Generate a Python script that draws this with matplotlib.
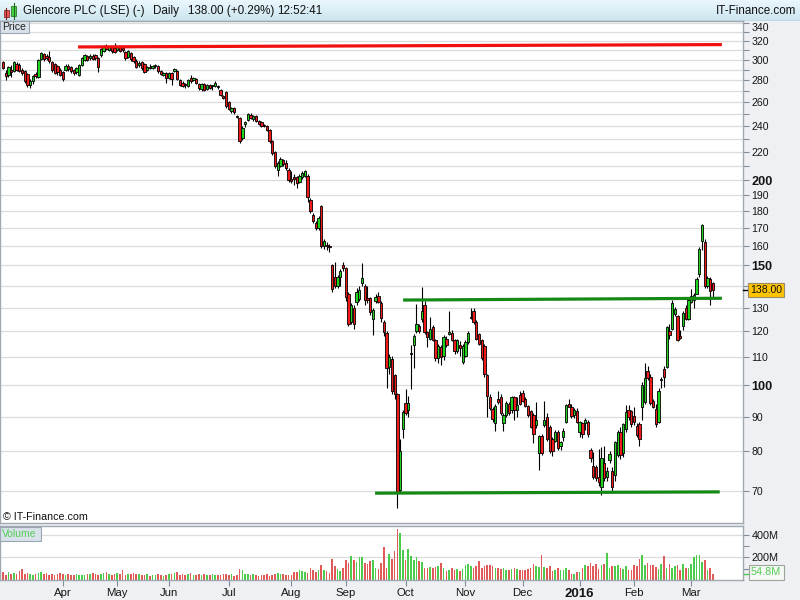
import numpy as np
import pandas as pd
import matplotlib
matplotlib.use("Agg")
import matplotlib.pyplot as plt
import matplotlib.colors as mcolors
from matplotlib.patches import Rectangle
from matplotlib.collections import PatchCollection
from matplotlib.ticker import FixedLocator, NullFormatter
from matplotlib.transforms import blended_transform_factory

plt.rcParams['font.family'] = ['Liberation Sans', 'DejaVu Sans']

# ---------------- data ----------------
title_name = "Glencore PLC (LSE) (-)"
title_period = "Daily"
title_quote = "138.00 (+0.29%)"
title_time = "12:52:41"
brand = "IT-Finance.com"

start_date = "2015-03-02"
end_date = "2016-03-11"
uk_holidays = ["2015-04-03", "2015-04-06", "2015-05-04", "2015-05-25",
               "2015-08-31", "2015-12-25", "2015-12-28", "2016-01-01"]

opens = [298,287,285,290,289,296,295,290,289,286,
         276,279,286,283,301,306,304,303,298,296,
         294,290,288,290,294,293,290,288,285,295,
         300,304,302,304,305,302,305,309,314,310,
         313,312,310,313,312,308,303,307,303,299,
         295,298,296,290,293,292,294,294,289,285,
         287,282,287,289,289,280,278,276,275,282,
         280,281,277,272,277,272,276,275,275,275,
         271.5,266,269,260,252.4,254.8,248,246.8,230.5,242,
         245,249,246,248,244,243,240.5,240,237,228.5,
         220,207,210,214,212,207,201,202,202,199,
         202,203,203,187,178,173,170,183,160,160.5,
         160,150,144,140,144,150,148.6,136,124,130,
         132.5,134,141.5,140,134.5,134.5,125,133,135.2,132.2,
         123.8,119.4,106.4,109.4,103.4,97,70.3,86.2,94.3,91.9,
         111,114.8,120.3,122.4,125.1,131,119.6,117,121.7,116.4,
         109.8,113.8,110.5,117.1,119,119.4,116.4,112.2,114.7,108.2,
         110.6,115.8,125.5,128.6,123.8,118.9,116.4,114.4,103.4,96.3,
         92.2,88.1,95.5,96,88,90.5,94,91.9,96,92,
         96.8,97.6,95.4,93.2,91.6,90.5,87.6,79.6,84.3,87.6,
         89.8,87,83.5,82.8,85.5,81.5,83.9,88.5,93.8,93.1,
         90.4,91.8,85.3,88,88,88.5,80.3,76.3,76,73.3,
         71,77,73.4,77.7,75,73.8,79,85.3,79.5,86.4,
         92,91.7,90.2,87.2,87.7,93.1,94.5,105,102.9,95,
         92.2,88.5,101.8,105.7,106.5,120,121,127.3,126.3,118,
         122,130,125,132.4,133.3,136.2,145.9,162.8,162.2,139.7,
         143.3,141.4]

highs = [299,290,294,295,299,298,297,292,290,287,
         281,285,288,301,308,307,306,309,299,297,
         295,292,289,296,296,294,291,293,296,303,
         306,305,306,306,306,303,312,316,317,315,
         315,318,314,315,313,309,310,308,304,301,
         299,299,297,294,296,295,296,295,290,288,
         288,288,288,292,290,281,279,278,281,285,
         283,282,278,278,278,277,277,276,279,276,
         272,267,270,261,256,256,249.5,247.5,240,244,
         251,251,249,249,245,244,242,241,238,229,
         221,213,216,215,214,208,206,204,203,204,
         206,207,204,188,179,174,177,184,164,162,
         161,150.5,151.5,145,148,151.5,149,137,132,131,
         139,140,151,141,140,135,130,136,137,133,
         124.5,120,111,110.5,104,97.5,83.5,92,98.9,96.5,
         114.8,119,131.5,123,139.4,133,120,126,122.5,117,
         115,114.5,118.5,118,128.6,120.5,117,117,116,115,
         116.5,120,130,130,124.5,119.5,117,115,104,97,
         93,94,98,97,91,95,94.5,96.5,96.5,96,
         98,98.5,96,93.5,92,91,94.5,84.5,85,94.8,
         91,87.5,84,86,86,83,86.5,94,95.5,94,
         92.5,92.7,88.8,88.5,89.5,89,81,79.8,76.5,80.8,
         81.3,81.5,76,80,76,83,86,87,88,93.5,
         93.5,92,93,88,88.5,101,108,106.7,104,95.5,
         94,99,103,106.7,122,123,133.6,130.5,127,120.5,
         128.5,131,134,138.6,136.5,144,159.5,172.3,164,144.5,
         144,142]

lows = [291,280,283,283,288,289,288,285,278,274,
        273,277,282,282,300,299,300,297,288,286,
        285,284,279,289,289,287,285,286,284,294,
        299,299,300,300,300,288,303,308,310,309,
        307,307,309,308,308,300,302,299,297,292,
        293,290,287,289,291,291,292,287,285,284,
        278,281,276,288,280,275,274,273,274,278,
        279,277,271,270,270,271,272,271,274,272,
        266,263,255,253,251,250,246.8,227,229,239,
        244,246,244,243,241,239,239,236,227,218,
        208,203,209,210,207,199,198,197,195,198,
        201,202,186,179,173,169,169,159,158.5,158,
        157,137,139,139,140,147,133,122,123,121,
        131,133,140,131,132,127,118.5,132,132,124,
        118,99.2,104,97,95.4,66,69.5,83.7,90.5,90,
        98.7,105.9,119.5,119.5,124,119,113.8,116.5,116,108.5,
        108,107,109,114,118.5,116,111,111.5,110.5,107.5,
        110,115,125,123,116.5,114.5,109,103,90,92,
        88.5,85.7,94,90.5,85.8,90,90.5,91,89,90,
        93.5,94.5,93,90,86.5,82.4,86.5,75.2,79,87,
        83,79.5,78.7,82.5,80.5,80.5,83,88,93,89.5,
        89.5,88,84,83.6,86,84,77.3,73,72.5,71.3,
        69,72.5,72.5,77,69.7,72.5,78.5,78,78.5,85.5,
        89,87,87.5,84,81.5,89,94,102,93.5,92.5,
        87,88,99,99.3,106,117,120.5,126.5,116,117,
        120.5,124.5,124.5,132,130,136,144,158,139,139,
        131,134]

closes = [292,284,293,288,298,290,289,287,279,276,
          279,284,284,300,307,301,302,299,290,287,
          288,285,281,294,291,289,287,292,295,302,
          305,300,304,301,302,293,311,314,311,313,
          309,308,313,309,310,302,309,301,299,293,
          297,292,288,293,292,294,294.5,289,286,287,
          282,287,281,291,281,276,275,275.5,280,279,
          282,278,273,277,271,276,273,275.3,278,274,
          267,264,256.4,254,255.5,251.5,247.5,228,238.7,243,
          250,247,248,244,242,240,240,237,228.5,219,
          209.5,212,215,211,208,200,199.5,201,198,203,
          205,206,189,180,174,170,176,160,163,160,
          159.5,138.5,140,144,147,148.5,134.6,123,131,123,
          137,138,143.5,133.5,133.4,128.2,129,135,132.5,125.4,
          119.6,105.9,110,98.2,97.1,69.7,80.2,91.3,91.1,94.3,
          111.3,118.1,122.9,120.3,128.6,119.9,117.9,121,116.4,109.6,
          114.2,110,117.7,114.8,119.9,116.4,112.2,116.4,113.5,114.2,
          115.8,119.4,125.8,123.8,117,115.1,109.6,104,96.6,92.7,
          89.2,93.3,94.4,91,90.5,94.3,91,96,92,93.5,
          93.8,95,93.2,90.5,87,84.9,89,84.3,79.6,89,
          83.4,80,80,85.5,81,82.6,85.8,93.5,93.1,90.2,
          92,88.3,88.5,85,89,85,78.2,73.5,73.2,72.1,
          78.3,73.2,75,79.3,70.9,82.6,85.3,79,87.7,91.5,
          90,87.8,88.3,84.6,83.5,100.2,102.4,102.4,94.2,93.1,
          87.7,98.1,102.2,103,121.6,118.4,132,129.5,116.7,117.5,
          127.8,125,133.6,135.3,135.9,143.3,158.5,171.9,139.7,143.7,
          137.6,138]

# volume in millions
volumes = [70,45,75,50,65,55,80,100,50,60,55,45,50,60,70,55,65,45,50,40,55,60,
           50,45,55,48,40,50,45,42,48,55,50,60,55,45,50,60,70,55,45,50,
           60,50,85,45,55,50,60,55,50,40,45,50,35,40,45,55,40,35,45,
           50,55,60,75,40,50,45,55,60,40,45,50,45,55,40,45,50,42,45,40,50,55,
           45,50,35,40,95,85,55,50,45,50,40,35,45,40,50,35,45,50,60,55,50,45,40,
           45,70,75,85,80,70,65,110,85,70,90,130,90,80,60,190,120,95,80,110,
           180,150,210,175,160,200,200,150,140,170,175,110,95,150,290,110,230,185,260,450,420,265,
           175,270,210,175,200,165,160,110,110,115,110,115,120,150,110,80,85,105,90,100,80,95,
           130,140,125,110,120,165,105,120,130,130,120,105,105,100,110,85,90,95,110,100,90,
           90,85,100,110,145,120,115,220,115,110,120,80,85,110,90,85,110,85,50,50,70,
           75,110,130,120,150,125,140,100,130,140,235,110,120,125,130,110,95,120,90,85,
           130,120,190,220,130,150,130,130,115,100,140,210,110,140,110,120,130,90,140,110,110,
           145,205,220,225,160,175,85,105,54.8]

# trend lines (x in trading-day index, y in price)
resistance_x = [27.6, 264.3]
resistance_y = [313.5, 316.0]
neckline_x = [147.1, 264.3]
neckline_y = [133.4, 134.2]
support_x = [136.8, 263.5]
support_y = [69.5, 69.8]

price_ticks = [70, 80, 90, 100, 110, 120, 130, 150, 160, 170, 180, 190, 200,
               220, 240, 260, 280, 300, 320, 340]
bold_ticks = [100, 150, 200]
minor_ticks = [140, 210, 230, 250, 270, 290, 310, 330]
grid_levels = list(range(70, 350, 10))
vol_ticks = [200, 400]
vol_minor = [100, 300]
last_price = 138.00
last_volume = 54.8

# ---------------- layout helpers ----------------
W, H = 800, 600
fig = plt.figure(figsize=(W / 100, H / 100), dpi=100, facecolor='#eef0f3')


def px_axes(x0, y0, x1, y1, **kw):
    return fig.add_axes([x0 / W, 1 - y1 / H, (x1 - x0) / W, (y1 - y0) / H], **kw)


def fig_rect(x0, y0, x1, y1, **kw):
    r = Rectangle((x0 / W, 1 - y1 / H), (x1 - x0) / W, (y1 - y0) / H,
                  transform=fig.transFigure, **kw)
    fig.add_artist(r)
    return r


def fig_text(x, y, s, **kw):
    return fig.text(x / W, 1 - y / H, s, **kw)


o = np.array(opens, float)
c = np.array(closes, float)
hi = np.maximum(np.array(highs, float), np.maximum(o, c))
lo = np.minimum(np.array(lows, float), np.minimum(o, c))
n = len(c)
x = np.arange(n)
up = c >= o
GREEN = '#1ed21e'
RED = '#f01a1a'

px_per_bar = 2.72
xl = -3 / px_per_bar
xr = xl + 743 / px_per_bar

# ---------------- title bar ----------------
tax = px_axes(0, 0, 800, 21)
grad = np.linspace(0, 1, 60)[:, None]
cmap = mcolors.LinearSegmentedColormap.from_list('tb', ['#eaf7fc', '#cce5ef'])
tax.imshow(grad, aspect='auto', cmap=cmap, extent=[0, 800, 21, 0])
tax.set_xlim(0, 800)
tax.set_ylim(21, 0)
tax.axis('off')
tax.plot([0, 800], [20.5, 20.5], color='#9aa8b4', lw=1.0)
# small candle icon
tax.plot([6.3, 6.3], [8, 19], color='#7a1a1a', lw=0.8)
tax.add_patch(Rectangle((3.5, 10), 5.5, 7.3, fc='#f05a5a', ec='#8a2a2a', lw=0.6))
tax.plot([13.5, 13.5], [2.5, 19], color='#1a6a1a', lw=0.8)
tax.add_patch(Rectangle((11, 5.5), 5, 10.5, fc='#46d046', ec='#2a7a2a', lw=0.6))

tfs = 8.4
fig_text(23, 11, title_name, fontsize=tfs, va='center', ha='left', color='#111111')
fig_text(153, 11, title_period, fontsize=tfs, va='center', ha='left', color='#111111')
fig_text(188, 11, title_quote, fontsize=tfs, va='center', ha='left', color='#111111')
fig_text(277, 11, title_time, fontsize=tfs, va='center', ha='left', color='#111111')
fig_text(796, 11, brand, fontsize=tfs, va='center', ha='right', color='#111111')

# ---------------- price panel ----------------
ax = px_axes(0, 21, 743, 523)
ax.set_facecolor('white')
ax.set_yscale('log')
ax.set_ylim(62.84, 342.2)
ax.set_xlim(xl, xr)

ax.hlines(grid_levels, xl, xr, color='#dcdcdc', lw=0.9, zorder=0)

ax.vlines(x, lo, hi, color='black', lw=0.8, zorder=2)
bw = 0.84
patches = []
fcols = []
for i in range(n):
    bot = min(o[i], c[i])
    h = abs(c[i] - o[i])
    h = max(h, bot * 0.004)
    patches.append(Rectangle((x[i] - bw / 2, bot), bw, h))
    fcols.append(GREEN if up[i] else RED)
pc = PatchCollection(patches, facecolors=fcols, edgecolors='black', linewidths=0.6, zorder=3)
ax.add_collection(pc)

ax.plot(resistance_x, resistance_y, color='#f01010', lw=2.3, solid_capstyle='butt', zorder=4)
ax.plot(neckline_x, neckline_y, color='#148a14', lw=2.3, solid_capstyle='butt', zorder=4)
ax.plot(support_x, support_y, color='#148a14', lw=2.3, solid_capstyle='butt', zorder=4)

ax.yaxis.tick_right()
ax.set_yticks(price_ticks)
ax.set_yticklabels([str(t) for t in price_ticks])
ax.yaxis.set_minor_locator(FixedLocator(minor_ticks))
ax.yaxis.set_minor_formatter(NullFormatter())
ax.tick_params(axis='y', which='both', direction='out', length=4, width=0.8,
               color='#7f8c99', pad=2, labelsize=7.6, labelcolor='#151515')
for lab, t in zip(ax.get_yticklabels(), price_ticks):
    if t in bold_ticks:
        lab.set_fontweight('bold')
        lab.set_fontsize(9.2)
    if t == max(price_ticks):
        lab.set_verticalalignment('top')
ax.set_xticks([])
for s in ax.spines.values():
    s.set_color('#a0a8b0')
    s.set_linewidth(1.0)

bt = blended_transform_factory(ax.transAxes, ax.transData)
ax.plot([1.0, 1.0 + 6 / 743], [last_price, last_price], transform=bt, color='black',
        lw=1.0, clip_on=False, zorder=6)
ax.text(1.0 + 7 / 743, last_price, f"{last_price:.2f}", transform=bt, fontsize=7.6,
        va='center', ha='left', color='#111111', zorder=7,
        bbox=dict(boxstyle='square,pad=0.2', fc='#ffc400', ec='#9a8a6a', lw=0.8))

fig_rect(0, 21, 29, 33, fc='#d9e2ea', ec='#9aa6b2', lw=0.8, zorder=10)
fig_text(2, 27.2, "Price", fontsize=7.5, va='center', ha='left', color='#222222', zorder=11)
fig_text(3, 517, "\u00a9 IT-Finance.com", fontsize=7.7, va='center', ha='left', color='#111111')

# ---------------- volume panel ----------------
vax = px_axes(0, 526, 743, 580)
vax.set_facecolor('white')
vax.set_xlim(xl, xr)
vax.set_ylim(0, 478)
vax.hlines(vol_ticks, xl, xr, color='#dcdcdc', lw=0.9, zorder=0)
vcols = ['#4ccc4c' if u else '#e05a5a' for u in up]
vax.bar(x, volumes, width=0.58, color=vcols, zorder=2)
vax.yaxis.tick_right()
vax.set_yticks(vol_ticks)
vax.set_yticklabels([f"{v}M" for v in vol_ticks])
vax.yaxis.set_minor_locator(FixedLocator(vol_minor))
vax.yaxis.set_minor_formatter(NullFormatter())
vax.tick_params(axis='y', which='both', direction='out', length=4, width=0.8,
                color='#7f8c99', pad=2, labelsize=7.8, labelcolor='#151515')
for s in vax.spines.values():
    s.set_color('#a0a8b0')
    s.set_linewidth(1.0)

bv = blended_transform_factory(vax.transAxes, vax.transData)
vax.plot([1.0, 1.0 + 5 / 743], [last_volume, last_volume], transform=bv, color='#4ccc4c',
         lw=1.0, clip_on=False)
vax.text(1.0 + 8 / 743, last_volume + 12, f"{last_volume}M", transform=bv, fontsize=7.8,
         va='center', ha='left', color='#55cc55',
         bbox=dict(boxstyle='square,pad=0.22', fc='#f6f9f6', ec='#9aa69a', lw=0.8))

fig_rect(0, 527, 41, 541, fc='#d9e2ea', ec='#9aa6b2', lw=0.8, zorder=10)
fig_text(2, 534, "Volume", fontsize=7.5, va='center', ha='left', color='#55cc55', zorder=11)

# month ticks
dates = pd.bdate_range(start_date, end_date)
dates = dates[~dates.isin(pd.to_datetime(uk_holidays))]
tick_pos, tick_lab = [], []
for i in range(1, min(len(dates), n)):
    if dates[i].month != dates[i - 1].month:
        tick_pos.append(i)
        tick_lab.append(str(dates[i].year) if dates[i].month == 1 else dates[i].strftime('%b'))
vax.set_xticks(tick_pos)
vax.set_xticklabels(tick_lab)
vax.tick_params(axis='x', direction='out', length=4, width=0.8, color='#7f8c99',
                pad=1.5, labelsize=8.2, labelcolor='#151515')
for lab in vax.get_xticklabels():
    if lab.get_text().isdigit():
        lab.set_fontweight('bold')
        lab.set_fontsize(9.5)

fig.savefig('out.png', dpi=100)
